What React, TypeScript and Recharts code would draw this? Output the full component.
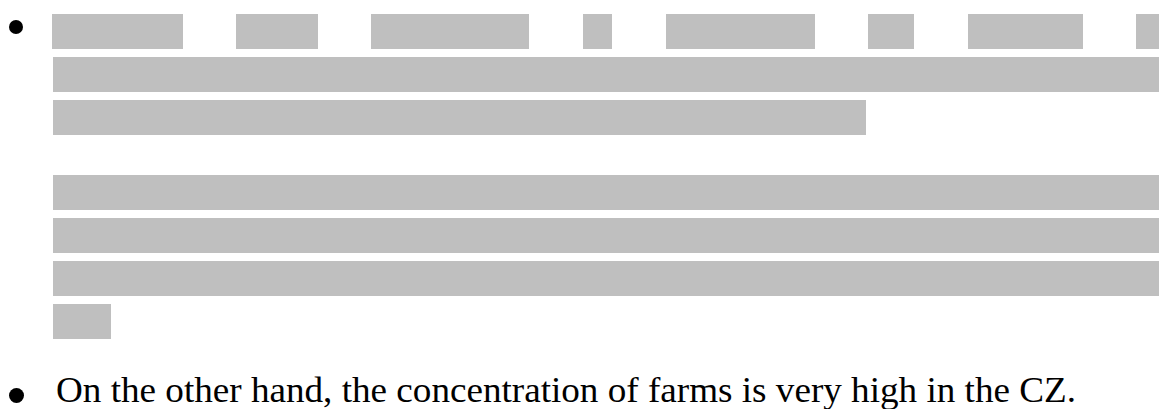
import React from "react";
import { Bar, BarChart, XAxis, YAxis } from "recharts";

// page is a slide with redacted text lines; each redaction block is a stacked bar segment
const PAGE_W = 1159;
const PAGE_H = 409;
const REDACT = "#bfbfbf";

// first paragraph, line 1: white space before each redacted word, then the word width (px)
const line1Gaps = [52, 53, 53, 54, 54, 53, 54, 53];
const line1Words = [131, 82, 158, 29, 149, 46, 115, 23];

// remaining lines: indent, then one redacted run
const para1Indents = [53, 53];
const para1Runs = [1106, 813];
const para2Indents = [53, 53, 53, 53];
const para2Runs = [1106, 1106, 1106, 58];

const closingText = "On the other hand, the concentration of farms is very high in the CZ.";

type Row = { line: string; [k: string]: number | string };

function toRow(line: string, gaps: number[], words: number[], slots: number): Row {
  const row: Row = { line };
  for (let i = 0; i < slots; i++) {
    row[`g${i}`] = gaps[i] ?? 0;
    row[`w${i}`] = words[i] ?? 0;
  }
  return row;
}

const SLOTS = line1Words.length;

const para1Rows: Row[] = [
  toRow("1", line1Gaps, line1Words, SLOTS),
  ...para1Runs.map((w, i) => toRow(String(i + 2), [para1Indents[i]], [w], SLOTS)),
];
const para2Rows: Row[] = para2Runs.map((w, i) =>
  toRow(String(i + 1), [para2Indents[i]], [w], SLOTS)
);

function RedactedLines({ rows, top }: { rows: Row[]; top: number }) {
  const rowH = 43;
  const bars = [];
  for (let i = 0; i < SLOTS; i++) {
    bars.push(
      <Bar key={`g${i}`} dataKey={`g${i}`} stackId="line" fill="none" isAnimationActive={false} />
    );
    bars.push(
      <Bar key={`w${i}`} dataKey={`w${i}`} stackId="line" fill={REDACT} isAnimationActive={false} />
    );
  }
  return (
    <div style={{ position: "absolute", left: 0, top }}>
      <BarChart
        layout="vertical"
        width={PAGE_W}
        height={rows.length * rowH}
        data={rows}
        barSize={35}
        margin={{ top: 0, right: 0, bottom: 0, left: 0 }}
      >
        <XAxis type="number" domain={[0, PAGE_W]} hide allowDataOverflow />
        <YAxis type="category" dataKey="line" hide />
        {bars}
      </BarChart>
    </div>
  );
}

export default function App() {
  return (
    <div
      style={{
        position: "absolute",
        left: 0,
        top: 0,
        width: PAGE_W,
        height: PAGE_H,
        background: "#fff",
        overflow: "hidden",
      }}
    >
      <RedactedLines rows={para1Rows} top={10} />
      <RedactedLines rows={para2Rows} top={171} />
      <svg
        width={PAGE_W}
        height={PAGE_H}
        style={{ position: "absolute", left: 0, top: 0, pointerEvents: "none" }}
      >
        <circle cx={16} cy={27} r={7} fill="#000" />
        <circle cx={16.5} cy={395.5} r={7.5} fill="#000" />
        <text
          x={56}
          y={402}
          fontFamily='"Liberation Serif", "Times New Roman", serif'
          fontSize={35}
          textLength={1020}
          lengthAdjust="spacingAndGlyphs"
          fill="#000"
        >
          {closingText}
        </text>
      </svg>
    </div>
  );
}
